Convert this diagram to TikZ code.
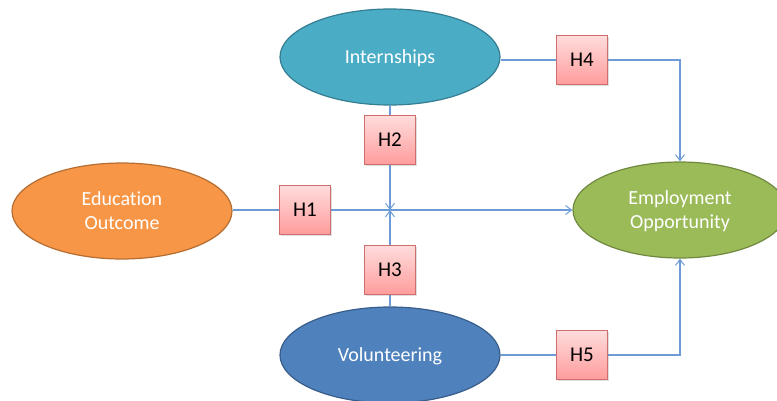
\documentclass[tikz,border=0pt]{standalone}
\usepackage{fontspec}
\setmainfont[Ligatures=NoCommon]{Carlito}
\usetikzlibrary{shapes.geometric,arrows.meta,shadows}
\definecolor{intfill}{HTML}{4BACC6}\definecolor{intdraw}{HTML}{357D91}
\definecolor{edufill}{HTML}{F79646}\definecolor{edudraw}{HTML}{B66D31}
\definecolor{volfill}{HTML}{4F81BD}\definecolor{voldraw}{HTML}{385D8A}
\definecolor{empfill}{HTML}{9BBB59}\definecolor{empdraw}{HTML}{71893F}
\definecolor{hyptop}{HTML}{FFDCDC}\definecolor{hypbot}{HTML}{FF9C9C}
\definecolor{hypdraw}{HTML}{CF6E6C}
\definecolor{conn}{HTML}{6C9BD8}
\tikzset{
  construct/.style={ellipse, minimum width=220pt, minimum height=96pt, line width=1.2pt,
    text=white, font=\fontsize{20}{24}\selectfont, align=center, inner sep=0pt, text depth=0pt},
  hyp/.style={rectangle, minimum width=51pt, minimum height=49pt, draw=hypdraw, line width=0.9pt,
    top color=hyptop, bottom color=hypbot, font=\fontsize{21}{24}\selectfont, text=black,
    drop shadow={opacity=0.25, shadow xshift=1.2pt, shadow yshift=-1.5pt}},
  link/.style={draw=conn, line width=1.1pt},
  arr/.style={link, -{Straight Barb[length=6pt,width=9pt,line width=1pt]}}
}
\begin{document}
\begin{tikzpicture}[x=1pt,y=-1pt]
\useasboundingbox (0,0) rectangle (777,400);
\coordinate (mid) at (390,210);
\coordinate (c4) at (680,60);
\coordinate (c5) at (680,355);
\node[construct, fill=intfill, draw=intdraw] (int) at (390,57) {Internships};
\node[construct, fill=edufill, draw=edudraw] (edu) at (122,211) {Education\\Outcome};
\node[construct, fill=volfill, draw=voldraw] (vol) at (390,355) {Volunteering};
\node[construct, fill=empfill, draw=empdraw, minimum width=214pt] (emp) at (680,210) {Employment\\Opportunity};
\draw[arr] (edu.east |- mid) -- (emp.west |- mid);
\draw[arr] (int.south) -- (mid);
\draw[arr] (vol.north) -- (mid);
\draw[arr] (int.east |- c4) -- (c4) -- (emp.north);
\draw[arr] (vol.east) -- (c5) -- (emp.south);
\node[hyp] (h1) at (305,210) {H1};
\node[hyp] (h2) at (390,140) {H2};
\node[hyp] (h3) at (390,270) {H3};
\node[hyp] (h4) at (582,60) {H4};
\node[hyp] (h5) at (582,355) {H5};
\end{tikzpicture}
\end{document}
